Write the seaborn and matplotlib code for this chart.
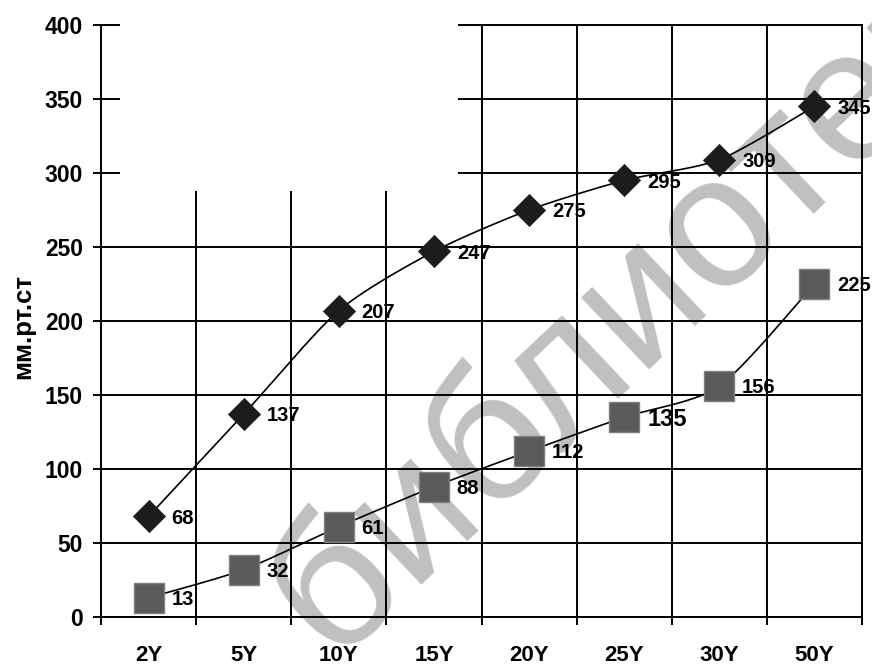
import numpy as np
import pandas as pd
import matplotlib
matplotlib.use("Agg")
import matplotlib.pyplot as plt
import seaborn as sns
from matplotlib.patches import Rectangle
from matplotlib.ticker import FixedLocator, NullFormatter

# ---- data ----
periods = ["2Y", "5Y", "10Y", "15Y", "20Y", "25Y", "30Y", "50Y"]
upper = [68, 137, 207, 247, 275, 295, 309, 345]
lower = [13, 32, 61, 88, 112, 135, 156, 225]
y_ticks = [0, 50, 100, 150, 200, 250, 300, 350, 400]
y_label = "мм.рт.ст"
watermark = "библиотека"

df = pd.DataFrame({"pos": np.arange(len(periods)), "period": periods,
                   "upper": upper, "lower": lower})

sns.set_theme(style="ticks")
plt.rcParams["font.family"] = ["Liberation Sans", "DejaVu Sans"]
for key in ("text.color", "axes.labelcolor", "xtick.color", "ytick.color", "axes.edgecolor"):
    plt.rcParams[key] = "black"


def smooth(xs, ys, n=40, k=8.0):
    """Gently smoothed line through the points (cubic Bezier segments)."""
    pts = np.column_stack([xs, ys]).astype(float)
    out = [pts[0]]
    last = len(pts) - 1
    for i in range(last):
        p0 = pts[max(i - 1, 0)]
        p1 = pts[i]
        p2 = pts[i + 1]
        p3 = pts[min(i + 2, last)]
        c1 = p1 + (p2 - p0) / k
        c2 = p2 - (p3 - p1) / k
        t = np.linspace(0, 1, n)[1:, None]
        seg = ((1 - t) ** 3) * p1 + 3 * ((1 - t) ** 2) * t * c1 \
            + 3 * (1 - t) * (t ** 2) * c2 + (t ** 3) * p2
        out.extend(seg)
    return np.array(out)


fig = plt.figure(figsize=(8.72, 6.66), dpi=100)
fig.patch.set_facecolor("white")
ax = fig.add_axes([101 / 872, 49 / 666, 761 / 872, 592 / 666])
ax.set_facecolor("none")

# light diagonal stamp behind the plot
fig.text(0.760, 0.580, watermark, rotation=43.4, rotation_mode="anchor",
         ha="center", va="center", fontsize=135, color="#c0c0c0",
         family="Liberation Sans", zorder=-1)

# smoothed connecting lines
for col in ("upper", "lower"):
    curve = smooth(df["pos"], df[col])
    ax.plot(curve[:, 0], curve[:, 1], color="black", lw=1.2, zorder=3)

sns.scatterplot(data=df, x="pos", y="upper", marker="D", s=270,
                color="#1c1c1c", edgecolor="#1c1c1c", linewidth=0.5,
                zorder=4, ax=ax)
sns.scatterplot(data=df, x="pos", y="lower", marker="s", s=480,
                color="#5a5a5a", edgecolor="#808080", linewidth=1.0,
                zorder=4, ax=ax)

# value labels
for col in ("upper", "lower"):
    for i, v in enumerate(df[col]):
        fs = 17 if (col == "lower" and v == 135) else 14.5
        ax.annotate(f"{v}", (i, v), xytext=(16.5, -0.36 * fs),
                    textcoords="offset points", ha="left", va="baseline",
                    fontsize=fs, fontweight="bold", color="black", zorder=5)

# axes, ticks and grid
ax.set_xlim(-0.5, len(periods) - 0.5)
ax.set_ylim(0, 400)
ax.xaxis.set_major_locator(FixedLocator(np.arange(-0.5, len(periods), 1.0)))
ax.xaxis.set_major_formatter(NullFormatter())
ax.xaxis.set_minor_locator(FixedLocator(np.arange(len(periods))))
ax.set_xticklabels(periods, minor=True)
ax.set_yticks(y_ticks)
ax.set_yticklabels([str(t) for t in y_ticks])

ax.tick_params(axis="x", which="minor", length=0, pad=20, labelsize=16)
ax.tick_params(axis="x", which="major", length=6, width=1.4, direction="out",
               bottom=True)
ax.tick_params(axis="y", which="major", length=6, width=1.4, direction="out",
               pad=7, labelsize=16.5, left=True)
for lbl in ax.get_xticklabels(minor=True) + ax.get_yticklabels():
    lbl.set_fontweight("bold")

ax.grid(True, which="major", color="black", linewidth=1.4)
ax.set_axisbelow(True)
for sp in ax.spines.values():
    sp.set_visible(True)
    sp.set_linewidth(1.4)
    sp.set_color("black")

ax.set_xlabel("")
ax.set_ylabel(y_label, fontsize=18.5, fontweight="bold")
ax.yaxis.set_label_coords(-0.087, 0.49)

# blank area in the upper-left corner of the plot
ax.add_patch(Rectangle((-0.30, 288), 3.55, 125, facecolor="white",
                       edgecolor="none", zorder=2.6, clip_on=False))

fig.savefig("out.png", dpi=100)
